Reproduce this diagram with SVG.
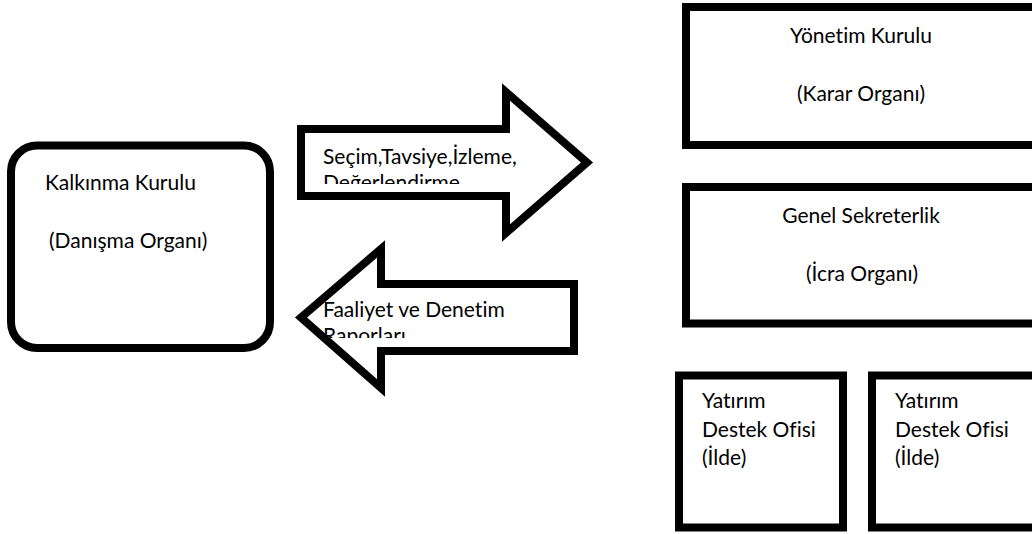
<svg xmlns="http://www.w3.org/2000/svg" width="1032" height="534" viewBox="0 0 1032 534">
  <style>
    .box { fill: #ffffff; stroke: #000000; stroke-width: 8; }
    .arrow { fill: #ffffff; stroke: #000000; stroke-width: 8; stroke-linejoin: miter; stroke-miterlimit: 10; }
    .lbl { font-family: "Lato", "Liberation Sans", sans-serif; font-size: 21px; fill: #000000; font-variant-ligatures: none; }
    .mid { text-anchor: middle; }
  </style>
  <defs>
    <clipPath id="clipRight"><rect x="305" y="133" width="220" height="51"/></clipPath>
    <clipPath id="clipLeft"><rect x="318" y="288" width="252" height="50"/></clipPath>
  </defs>
  <rect width="1032" height="534" fill="#ffffff"/>

  <!-- Kalkinma Kurulu (advisory body) -->
  <g id="kalkinma-kurulu">
    <rect class="box" x="11" y="145.5" width="259" height="202.5" rx="26" ry="26"/>
    <text class="lbl" x="45" y="190">Kalkınma Kurulu</text>
    <text class="lbl" x="49" y="248">(Danışma Organı)</text>
  </g>

  <!-- Yonetim Kurulu (decision body) -->
  <g id="yonetim-kurulu">
    <rect class="box" x="686" y="7" width="400" height="138"/>
    <text class="lbl mid" x="861" y="43">Yönetim Kurulu</text>
    <text class="lbl mid" x="861" y="101">(Karar Organı)</text>
  </g>

  <!-- Genel Sekreterlik (executive body) -->
  <g id="genel-sekreterlik">
    <rect class="box" x="686" y="187" width="400" height="136.5"/>
    <text class="lbl mid" x="861" y="223">Genel Sekreterlik</text>
    <text class="lbl mid" x="862" y="281">(İcra Organı)</text>
  </g>

  <!-- Investment support offices -->
  <g id="destek-ofisi-1">
    <rect class="box" x="679" y="375.5" width="164" height="152"/>
    <text class="lbl" x="702" y="408">Yatırım</text>
    <text class="lbl" x="702" y="437">Destek Ofisi</text>
    <text class="lbl" x="702" y="465">(İlde)</text>
  </g>
  <g id="destek-ofisi-2">
    <rect class="box" x="872" y="375.5" width="200" height="152"/>
    <text class="lbl" x="895" y="408">Yatırım</text>
    <text class="lbl" x="895" y="437">Destek Ofisi</text>
    <text class="lbl" x="895" y="465">(İlde)</text>
  </g>

  <!-- Block arrows between the bodies -->
  <g id="connectors">
    <g id="arrow-right">
      <polygon class="arrow" points="301,129 506,129 506,92 587,162.5 506,233 506,196 301,196"/>
      <g clip-path="url(#clipRight)">
        <text class="lbl" x="323" y="164">Seçim,Tavsiye,İzleme,</text>
        <text class="lbl" x="323" y="190">Değerlendirme</text>
      </g>
    </g>
    <g id="arrow-left">
      <polygon class="arrow" points="301,317.5 381,249 381,284 574,284 574,351 381,351 381,388"/>
      <g clip-path="url(#clipLeft)">
        <text class="lbl" x="323" y="317">Faaliyet ve Denetim</text>
        <text class="lbl" x="323" y="343">Raporları</text>
      </g>
    </g>
  </g>
</svg>
